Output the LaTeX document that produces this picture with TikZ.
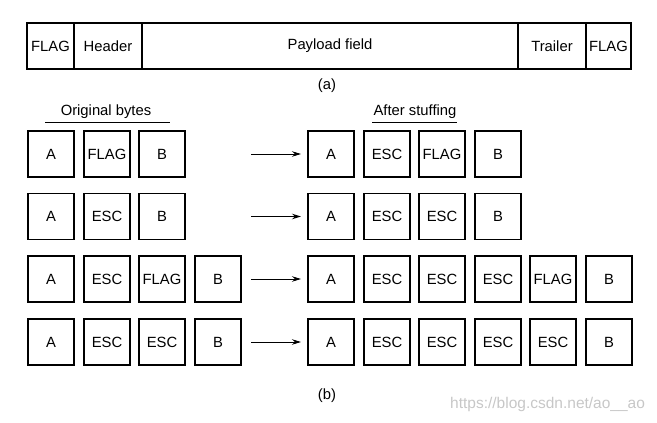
\documentclass[tikz,border=0pt]{standalone}
\usepackage{fontspec}
\setmainfont{Liberation Sans}
\usetikzlibrary{arrows.meta}
\begin{document}
\begin{tikzpicture}[x=1pt,y=-1pt,
  every node/.style={font=\fontsize{14.8}{16}\selectfont, inner sep=0pt},
  field/.style={draw, line width=1.1pt, minimum height=46pt},
  byte/.style={draw, line width=1.1pt, minimum width=46pt, minimum height=46pt},
  conv/.style={line width=0.9pt, -{Stealth[length=9pt,width=5.5pt]}},
  uline/.style={line width=1pt}]
\useasboundingbox (0,0) rectangle (657,423);
% (a) frame
\node[field, minimum width=47pt]  (f1) at (50.5,46) {FLAG};
\node[field, minimum width=68pt]  (hd) at (108,46) {Header};
\node[field, minimum width=376pt] (pl) at (330,46) {Payload field};
\node[field, minimum width=68pt]  (tr) at (552,46) {Trailer};
\node[field, minimum width=45pt]  (f2) at (608.5,46) {FLAG};
\node (la) at (327,86) {(a)};
% headings
\node (ob) at (106,112) {Original bytes};
\coordinate (ob1) at (45,122); \coordinate (ob2) at (170,122);
\draw[uline] (ob1) -- (ob2);
\node (as) at (415,112) {After stuffing};
\coordinate (as1) at (372,122); \coordinate (as2) at (457,122);
\draw[uline] (as1) -- (as2);
% row 1
\node[byte] (r1a) at (51,154) {A};
\node[byte] (r1b) at (107,154) {FLAG};
\node[byte] (r1c) at (162,154) {B};
\coordinate (r1s) at (251,154); \coordinate (r1e) at (301,154);
\draw[conv] (r1s) -- (r1e);
\node[byte] (s1a) at (331,154) {A};
\node[byte] (s1b) at (387,154) {ESC};
\node[byte] (s1c) at (442,154) {FLAG};
\node[byte] (s1d) at (498,154) {B};
% row 2
\node[byte] (r2a) at (51,216.5) {A};
\node[byte] (r2b) at (107,216.5) {ESC};
\node[byte] (r2c) at (162,216.5) {B};
\coordinate (r2s) at (251,216.5); \coordinate (r2e) at (301,216.5);
\draw[conv] (r2s) -- (r2e);
\node[byte] (s2a) at (331,216.5) {A};
\node[byte] (s2b) at (387,216.5) {ESC};
\node[byte] (s2c) at (442,216.5) {ESC};
\node[byte] (s2d) at (498,216.5) {B};
% row 3
\node[byte] (r3a) at (51,279) {A};
\node[byte] (r3b) at (107,279) {ESC};
\node[byte] (r3c) at (162,279) {FLAG};
\node[byte] (r3d) at (218,279) {B};
\coordinate (r3s) at (251,279); \coordinate (r3e) at (301,279);
\draw[conv] (r3s) -- (r3e);
\node[byte] (s3a) at (331,279) {A};
\node[byte] (s3b) at (387,279) {ESC};
\node[byte] (s3c) at (442,279) {ESC};
\node[byte] (s3d) at (498,279) {ESC};
\node[byte] (s3e) at (553,279) {FLAG};
\node[byte] (s3f) at (609,279) {B};
% row 4
\node[byte] (r4a) at (51,342) {A};
\node[byte] (r4b) at (107,342) {ESC};
\node[byte] (r4c) at (162,342) {ESC};
\node[byte] (r4d) at (218,342) {B};
\coordinate (r4s) at (251,342); \coordinate (r4e) at (301,342);
\draw[conv] (r4s) -- (r4e);
\node[byte] (s4a) at (331,342) {A};
\node[byte] (s4b) at (387,342) {ESC};
\node[byte] (s4c) at (442,342) {ESC};
\node[byte] (s4d) at (498,342) {ESC};
\node[byte] (s4e) at (553,342) {ESC};
\node[byte] (s4f) at (609,342) {B};
\node (lb) at (327,396) {(b)};
\node[text=black!22, anchor=west, font=\fontsize{15.5}{17}\selectfont] (wm) at (450,404) {https://blog.csdn.net/ao\_\_ao};
\end{tikzpicture}
\end{document}
